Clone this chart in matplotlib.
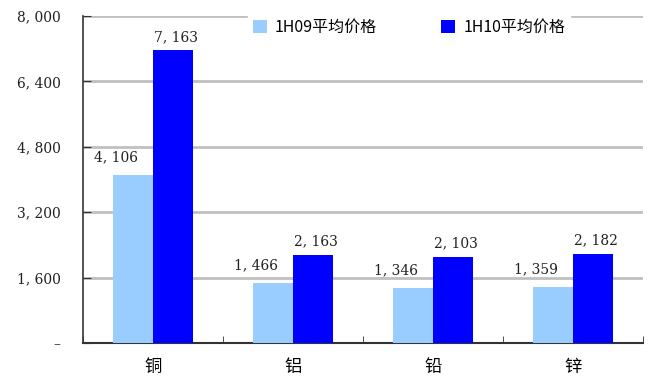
import numpy as np
import matplotlib.pyplot as plt
from matplotlib.ticker import FuncFormatter

# 金属平均价格数据
metals = ['铜', '铝', '铅', '锌']
price_1h09 = [4106, 1466, 1346, 1359]
price_1h10 = [7163, 2163, 2103, 2182]
series_names = ['1H09平均价格', '1H10平均价格']
colors = ['#99CCFF', '#0000FF']

cjk = ['Noto Sans CJK SC', 'DejaVu Sans']

fig = plt.figure(figsize=(6.51, 3.78), dpi=100)
ax = fig.add_axes([83 / 651, 35 / 378, 560 / 651, 327 / 378])

x = np.arange(len(metals))
w = 0.2857
b1 = ax.bar(x - w / 2, price_1h09, w, color=colors[0], label=series_names[0], zorder=3)
b2 = ax.bar(x + w / 2, price_1h10, w, color=colors[1], label=series_names[1], zorder=3)

def fmt(v):
    return f'{v:,.0f}'.replace(',', ', ')

# 数值标签：浅色柱的标签偏左
for rect, v in zip(b1, price_1h09):
    ax.annotate(fmt(v), (rect.get_x() + rect.get_width() / 2, v),
                xytext=(-12, 8), textcoords='offset points', ha='center', va='bottom',
                fontsize=10, family='DejaVu Serif', color='#222222')
for rect, v in zip(b2, price_1h10):
    ax.annotate(fmt(v), (rect.get_x() + rect.get_width() / 2, v),
                xytext=(2, 4.5), textcoords='offset points', ha='center', va='bottom',
                fontsize=10, family='DejaVu Serif', color='#222222')

ax.set_xlim(-0.5, len(metals) - 0.5)
ax.set_ylim(0, 8000)
ax.set_yticks(np.arange(0, 8001, 1600))
ax.yaxis.set_major_formatter(FuncFormatter(lambda v, p: '–' if v == 0 else fmt(v)))
ax.grid(axis='y', color='#c0c0c0', linewidth=2, zorder=0)

ax.set_xticks(x)
ax.set_xticklabels(metals, family=cjk, fontsize=12.5)
ax.set_xticks(np.arange(-0.5, len(metals)), minor=True)
ax.tick_params(axis='x', which='major', length=0, pad=11)
ax.tick_params(axis='x', which='minor', direction='in', length=5, color='#333333')
ax.tick_params(axis='y', direction='in', length=6, color='#333333', labelsize=10, pad=16)
for lab in ax.get_yticklabels():
    lab.set_family('DejaVu Serif')
    lab.set_color('#222222')

for s in ['top', 'right']:
    ax.spines[s].set_visible(False)
ax.spines['left'].set_color('#333333')
ax.spines['bottom'].set_color('#333333')
ax.spines['left'].set_linewidth(1.2)
ax.spines['bottom'].set_linewidth(1.5)

leg = ax.legend(loc='upper left', bbox_to_anchor=(0.28, 1.03), ncol=2, frameon=True,
                fancybox=False, edgecolor='white', facecolor='white', framealpha=1,
                handlelength=0.9, handleheight=0.9, handletextpad=0.5,
                columnspacing=4.0, borderpad=0.3, prop={'family': cjk, 'size': 11.5})
leg.set_zorder(5)

fig.savefig('out.png', dpi=100)
